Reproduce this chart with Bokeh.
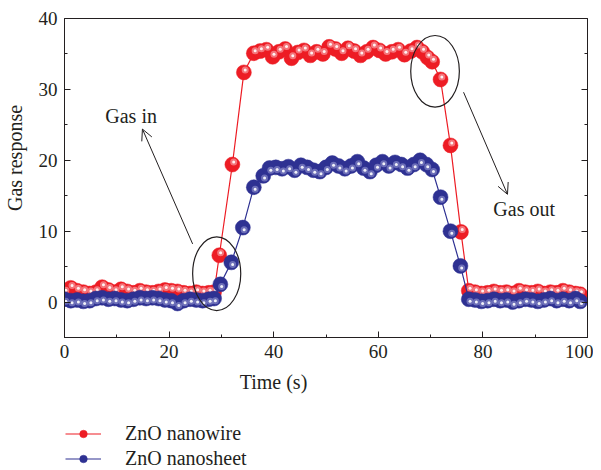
import math
from bokeh.plotting import figure
from bokeh.layouts import column
from bokeh.models import (Range1d, FixedTicker, LinearAxis, Legend, LegendItem,
                          Label, Arrow, OpenHead, ColumnDataSource)
from bokeh.embed import file_html
from bokeh.resources import INLINE

# ---------------- data ----------------
wire_t = [0.0, 1.2, 2.4, 3.6, 4.8, 6.0, 7.2, 8.4, 9.6, 10.8, 12.0, 13.2, 14.4, 15.6,
          16.8, 18.0, 19.2, 20.4, 21.6, 22.8, 24.0, 25.2, 26.4, 27.6, 28.6,
          29.6, 32.1, 34.3, 36.2,
          37.4, 38.6, 39.8, 41.0, 42.2, 43.4, 44.6, 45.8, 47.0, 48.2, 49.4, 50.6,
          51.8, 53.0, 54.2, 55.4, 56.6, 57.8, 59.0, 60.2, 61.4, 62.6, 63.8, 65.0,
          66.2, 67.4, 68.4, 69.4, 70.3,
          71.9, 73.8, 75.8, 77.3,
          78.5, 79.7, 80.9, 82.1, 83.3, 84.5, 85.7, 86.9, 88.1, 89.3, 90.5, 91.7,
          92.9, 94.1, 95.3, 96.5, 97.7, 98.6]
wire_r = [1.3, 2.0, 1.6, 1.4, 1.2, 1.4, 2.1, 1.7, 1.4, 1.8, 1.5, 1.3, 1.6, 1.4,
          1.3, 1.5, 1.7, 1.6, 1.5, 1.3, 1.2, 1.4, 1.2, 1.3, 1.4,
          6.6, 19.4, 32.4, 35.1,
          35.4, 35.6, 34.6, 35.3, 35.7, 34.4, 35.2, 35.5, 34.8, 35.3, 35.0, 36.0,
          35.7, 35.1, 35.8, 35.4, 34.8, 35.3, 35.9, 35.5, 35.0, 35.3, 35.6, 34.9,
          35.4, 35.9, 35.3, 34.5, 33.9,
          31.4, 22.1, 9.9, 1.6,
          1.4, 1.2, 1.3, 1.5, 1.3, 1.4, 1.2, 1.6, 1.4, 1.3, 1.5, 1.2,
          1.4, 1.3, 1.6, 1.4, 1.2, 1.1]

sheet_t = [0.0, 1.2, 2.4, 3.6, 4.8, 6.0, 7.2, 8.4, 9.6, 10.8, 12.0, 13.2, 14.4, 15.6,
           16.8, 18.0, 19.2, 20.4, 21.6, 22.8, 24.0, 25.2, 26.4, 27.6, 28.6,
           29.8, 31.9, 34.1, 36.2, 38.0,
           39.2, 40.4, 41.6, 42.8, 44.0, 45.2, 46.4, 47.6, 48.8, 50.0, 51.2, 52.4,
           53.6, 54.8, 56.0, 57.2, 58.4, 59.6, 60.8, 62.0, 63.2, 64.4, 65.6, 66.8,
           68.0, 69.2, 70.3,
           71.9, 73.8, 75.7, 77.3,
           78.5, 79.7, 80.9, 82.1, 83.3, 84.5, 85.7, 86.9, 88.1, 89.3, 90.5, 91.7,
           92.9, 94.1, 95.3, 96.5, 97.7, 98.6]
sheet_r = [0.4, 0.2, 0.3, 0.1, 0.2, 0.5, 0.6, 0.4, 0.5, 0.3, 0.2, 0.4, 0.6, 0.5,
           0.6, 0.5, 0.3, 0.2, -0.2, 0.2, 0.4, 0.3, 0.2, 0.4, 0.5,
           2.5, 5.6, 10.5, 16.2, 17.8,
           18.9, 19.0, 18.8, 19.1, 18.6, 19.3, 19.0, 18.6, 18.4, 19.0, 19.6, 19.2,
           18.8, 19.2, 19.8, 18.9, 18.4, 19.3, 19.8, 19.2, 19.7, 19.4, 18.9, 19.4,
           20.0, 19.4, 18.7,
           14.8, 10.0, 5.1, 0.4,
           0.3, 0.1, 0.2, 0.4, 0.2, 0.3, 0.0, 0.2, 0.4, 0.3, 0.1, 0.3,
           0.5, 0.2, 0.4, 0.2, 0.5, 0.1]

series_names = ["ZnO nanowire", "ZnO nanosheet"]
x_major = [0, 20, 40, 60, 80, 100]
x_minor = [10, 30, 50, 70, 90]
y_major = [0, 10, 20, 30, 40]
y_minor = [-5, 5, 15, 25, 35]

FONT = "Liberation Serif"
INK = "#231F20"
RED = "#ED1C24"
BLUE = "#2E3192"
RED_HL = "#F58A8E"
BLUE_HL = "#7A7DC0"
NB = "\u00a0"

W = 593
p = figure(width=W, height=400, x_range=Range1d(0, 100), y_range=Range1d(-5, 40),
           output_backend="svg", toolbar_location=None,
           min_border_left=64, min_border_right=6, min_border_top=18,
           min_border_bottom=63)
p.grid.visible = False
p.outline_line_color = INK
p.outline_line_width = 1


def style_axis(ax, labels=True):
    ax.major_tick_in = 6
    ax.major_tick_out = 0
    ax.minor_tick_in = 3
    ax.minor_tick_out = 0
    ax.axis_line_color = INK
    ax.major_tick_line_color = INK
    ax.minor_tick_line_color = INK
    ax.major_label_text_font = FONT
    ax.major_label_text_font_size = "19px"
    ax.major_label_text_color = INK
    ax.major_label_standoff = 7
    ax.axis_label_text_font = FONT
    ax.axis_label_text_font_size = "20px"
    ax.axis_label_text_font_style = "normal"
    ax.axis_label_text_color = INK
    if not labels:
        ax.major_label_text_alpha = 0
        ax.major_label_text_font_size = "1px"
        ax.major_label_standoff = 0


p.xaxis.ticker = FixedTicker(ticks=x_major, minor_ticks=x_minor)
p.yaxis.ticker = FixedTicker(ticks=y_major, minor_ticks=y_minor)
style_axis(p.xaxis[0])
style_axis(p.yaxis[0])
p.xaxis.axis_label = "Time (s)" + NB * 21
p.xaxis.axis_label_standoff = 10
p.yaxis.axis_label = NB * 8 + "Gas response"
p.yaxis.axis_label_standoff = 10

right = LinearAxis(ticker=FixedTicker(ticks=y_major, minor_ticks=y_minor))
style_axis(right, labels=False)
p.add_layout(right, "right")

src_w = ColumnDataSource(dict(t=wire_t, r=wire_r,
                              th=[v + 0.25 for v in wire_t],
                              rh=[v + 0.35 for v in wire_r]))
src_s = ColumnDataSource(dict(t=sheet_t, r=sheet_r,
                              th=[v + 0.25 for v in sheet_t],
                              rh=[v - 0.3 for v in sheet_r]))


def series(fig, src, color, hl_color, highlights=True):
    ln = fig.line("t", "r", source=src, line_color=color, line_width=1.2)
    sc = fig.scatter("t", "r", source=src, size=15, fill_color=color,
                     line_color=color, line_width=0.5)
    if highlights:
        fig.scatter("th", "rh", source=src, size=7, fill_color=hl_color,
                    line_color=None, fill_alpha=0.8)
        fig.scatter("th", "rh", source=src, size=3, fill_color="white",
                    line_color=None, fill_alpha=0.9)
    return ln, sc


series(p, src_w, RED, RED_HL)
series(p, src_s, BLUE, BLUE_HL)

# ellipses
p.ellipse(x=[29.1, 70.85], y=[4.0, 32.55], width=[9.2, 9.3], height=[10.4, 10.1],
          fill_color=None, line_color=INK, line_width=1.2)

# arrows
p.add_layout(Arrow(end=OpenHead(size=11, line_color=INK, line_width=1),
                   x_start=24.5, y_start=8.2, x_end=14.9, y_end=24.4,
                   line_color=INK, line_width=1))
p.add_layout(Arrow(end=OpenHead(size=11, line_color=INK, line_width=1),
                   x_start=76.3, y_start=29.6, x_end=84.7, y_end=15.2,
                   line_color=INK, line_width=1))


def lab(x, y, text):
    p.add_layout(Label(x=x, y=y, text=text, text_font=FONT, text_font_size="20px",
                       text_color=INK, text_align="left", text_baseline="middle"))


lab(7.8, 26.2, "Gas in")
lab(82.0, 13.1, "Gas out")

# ---------------- legend strip below (same data, view range shows none of it) ----
lg = figure(width=W, height=70, x_range=Range1d(-30, -20), y_range=Range1d(-30, -20),
            output_backend="svg", toolbar_location=None, min_border=0)
lg.axis.visible = False
lg.grid.visible = False
lg.outline_line_color = None
lw, lws = series(lg, src_w, RED, RED_HL, highlights=False)
lb, lbs = series(lg, src_s, BLUE, BLUE_HL, highlights=False)
legend = Legend(items=[LegendItem(label=series_names[0], renderers=[lw, lws]),
                       LegendItem(label=series_names[1], renderers=[lb, lbs])],
                location=(1, 0), glyph_width=36, glyph_height=19, label_height=19,
                label_standoff=24, padding=0, spacing=2, margin=0,
                border_line_alpha=0, background_fill_alpha=0,
                label_text_font=FONT, label_text_font_size="20px",
                label_text_color=INK)
lg.add_layout(legend, "center")

layout = column(p, lg, spacing=0)
open("out.html", "w").write(file_html(layout, INLINE))
